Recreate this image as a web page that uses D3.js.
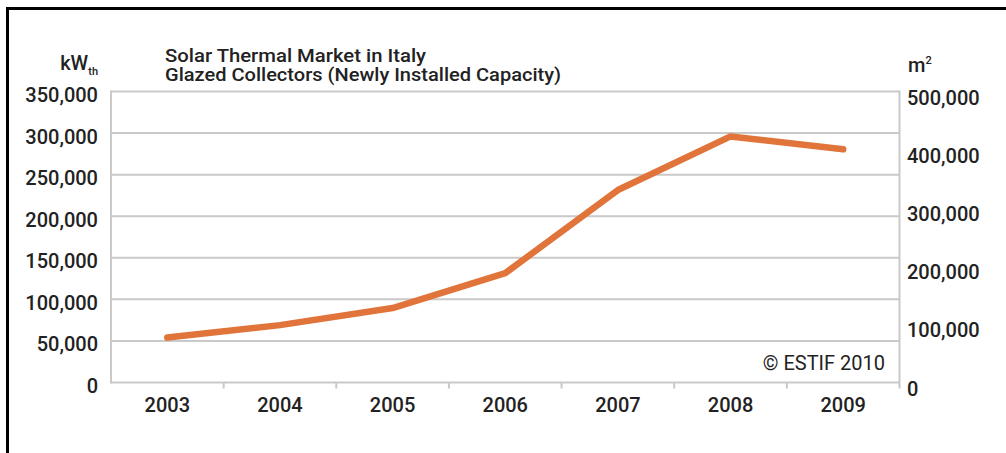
<!DOCTYPE html>
<html><head><meta charset="utf-8">
<script src="https://cdn.jsdelivr.net/npm/d3@7"></script>
<style>
html,body{margin:0;padding:0;background:#fff;}
svg{display:block;}
text{font-family:Roboto,"Liberation Sans",Arial,sans-serif;fill:#222;}
</style></head>
<body>
<svg id="chart" width="1006" height="453"></svg>
<script>
const years = ["2003","2004","2005","2006","2007","2008","2009"];
const capacityKWth = [54000, 69000, 89500, 131500, 231500, 296000, 280500];
const leftTicks = [0, 50000, 100000, 150000, 200000, 250000, 300000, 350000];
const rightTicks = [0, 100000, 200000, 300000, 400000, 500000];
const titleLines = ["Solar Thermal Market in Italy", "Glazed Collectors (Newly Installed Capacity)"];
const credit = "© ESTIF 2010";

const svg = d3.select("#chart");
const L = 111, R = 899.5, T = 91.5, B = 382.5;
const grid = "#c9c9c9", orange = "#E0743A";

// outer frame (left + top)
svg.append("path").attr("d", `M7.5,453 V8.5 H1006`).attr("fill","none").attr("stroke","#000").attr("stroke-width",3);

const x = d3.scaleBand().domain(years).range([L, R]).padding(0);
const yL = d3.scaleLinear().domain([0, 350000]).range([B, T]);
const yR = d3.scaleLinear().domain([0, 500000]).range([B, T]);
const fmt = d3.format(",");

// gridlines
svg.append("g").selectAll("line").data(leftTicks).join("line")
  .attr("x1", L).attr("x2", R).attr("y1", d => yL(d)).attr("y2", d => yL(d))
  .attr("stroke", grid).attr("stroke-width", 2);
// left & right borders
svg.append("line").attr("x1",L).attr("x2",L).attr("y1",T-1).attr("y2",B+1).attr("stroke",grid).attr("stroke-width",2);
svg.append("line").attr("x1",R).attr("x2",R).attr("y1",T-1).attr("y2",B+6).attr("stroke",grid).attr("stroke-width",2);
// x ticks between categories
svg.append("g").selectAll("line").data(years.slice(1)).join("line")
  .attr("x1", d => x(d)).attr("x2", d => x(d)).attr("y1", B).attr("y2", B+6)
  .attr("stroke", grid).attr("stroke-width", 2);

// left tick labels
svg.append("g").selectAll("text").data(leftTicks).join("text")
  .attr("x", 98).attr("y", d => yL(d) + 3.5).attr("dy","0.35em")
  .attr("text-anchor","end").attr("font-size",20).attr("font-weight",500)
  .text(d => fmt(d));
// right tick labels
svg.append("g").selectAll("text").data(rightTicks).join("text")
  .attr("x", 907).attr("y", d => yR(d) + 6).attr("dy","0.35em")
  .attr("text-anchor","start").attr("font-size",20).attr("font-weight",500)
  .text(d => fmt(d));
// year labels
svg.append("g").selectAll("text").data(years).join("text")
  .attr("x", d => x(d) + x.bandwidth()/2).attr("y", 405).attr("dy","0.35em")
  .attr("text-anchor","middle").attr("font-size",20).attr("font-weight",500)
  .text(d => d);

// unit labels
const kw = svg.append("text").attr("x", 98).attr("y", 70).attr("text-anchor","end")
  .attr("font-size",20).attr("font-weight",500);
kw.append("tspan").text("kW");
kw.append("tspan").attr("font-size",11).attr("dy",5).text("th");
const m2 = svg.append("text").attr("x", 908).attr("y", 72).attr("font-size",20).attr("font-weight",500);
m2.append("tspan").text("m");
m2.append("tspan").attr("font-size",11).attr("dy",-8).text("2");

// title
svg.append("g").selectAll("text").data(titleLines).join("text")
  .attr("x", 165).attr("y", (d,i) => 62 + i*19)
  .attr("font-size",18).attr("font-weight",500)
  .attr("textLength", (d,i) => i === 0 ? 261 : 396).attr("lengthAdjust","spacingAndGlyphs")
  .text(d => d);

// credit
svg.append("text").attr("x", 885).attr("y", 363).attr("dy","0.35em").attr("text-anchor","end")
  .attr("font-size",20).attr("font-weight",400).text(credit);

// line
const line = d3.line().x((d,i) => x(years[i]) + x.bandwidth()/2).y(d => yL(d));
svg.append("path").datum(capacityKWth).attr("d", line)
  .attr("fill","none").attr("stroke",orange).attr("stroke-width",6.5)
  .attr("stroke-linecap","round").attr("stroke-linejoin","round");
</script>
</body></html>
